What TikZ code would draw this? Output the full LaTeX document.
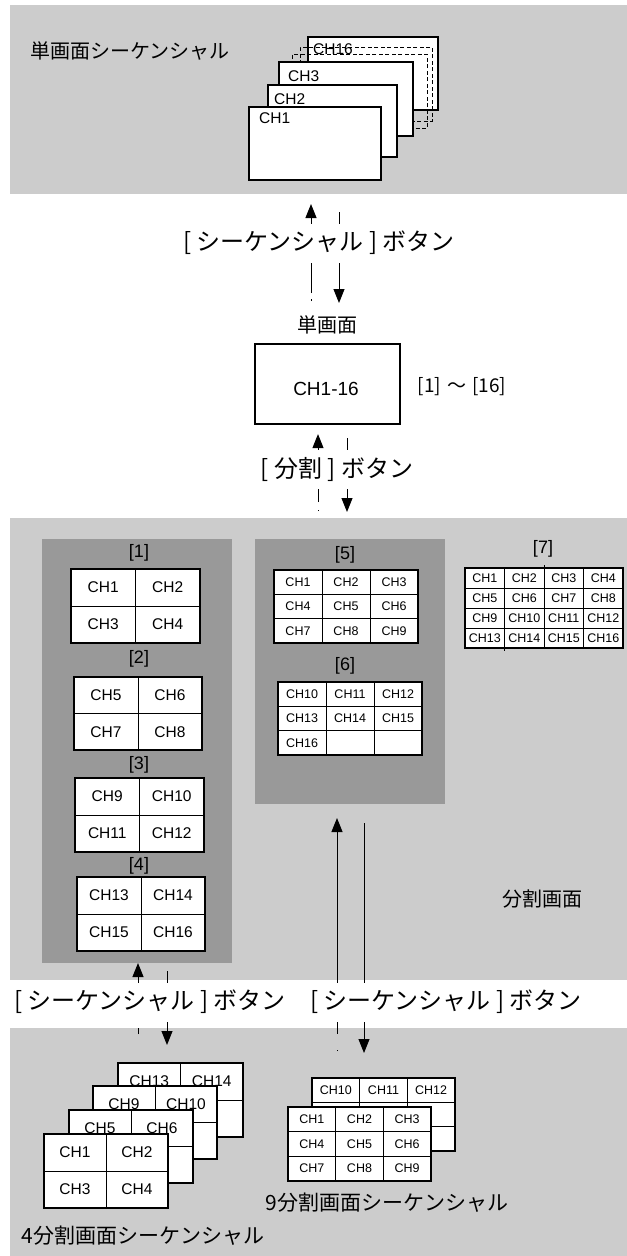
\documentclass[tikz,border=0pt]{standalone}
\usepackage{fontspec}
\setmainfont{Liberation Sans}
\newfontfamily\jpfont{Noto Sans CJK JP}
\usepackage{tikz}
\usetikzlibrary{positioning,arrows.meta,calc}
\definecolor{bandgray}{RGB}{204,204,204}
\definecolor{panelgray}{RGB}{153,153,153}
% channel grid: name, x, y, width, height, columns, rows, cell style, labels
\newcommand{\chgrid}[9]{%
  \node[gridbox, minimum width=#4bp, minimum height=#5bp, anchor=north west] (#1) at (#2,#3) {};
  \foreach \lab [count=\i from 0] in {#9} {
    \pgfmathtruncatemacro{\gcol}{mod(\i,#6)}
    \pgfmathtruncatemacro{\grow}{div(\i,#6)}
    \node[#8] (#1-\i) at ($(#1.north west)+({(\gcol+0.5)*#4/#6},{(\grow+0.5)*#5/#7})$) {\lab};
  }
  \pgfmathtruncatemacro{\glastc}{#6-1}
  \pgfmathtruncatemacro{\glastr}{#7-1}
  \foreach \k in {1,...,\glastc}
    \draw[cellline] ($(#1.north west)+({\k*#4/#6},0)$) -- ($(#1.south west)+({\k*#4/#6},0)$);
  \foreach \k in {1,...,\glastr}
    \draw[cellline] ($(#1.north west)+(0,{\k*#5/#7})$) -- ($(#1.north east)+(0,{\k*#5/#7})$);
}

\begin{document}
\begin{tikzpicture}[x=1bp, y=-1bp,
  gridbox/.style={draw, fill=white, line width=2.2bp, inner sep=0pt, outer sep=0pt},
  cellline/.style={line width=1bp},
  scrbox/.style={draw, fill=white, line width=2.2bp, inner sep=0pt, outer sep=0pt, anchor=north west},
  ghostbox/.style={draw, dash pattern=on 4bp off 2.5bp, line width=0.8bp, inner sep=0pt, outer sep=0pt, anchor=north west},
  panel/.style={fill=panelgray, inner sep=0pt, outer sep=0pt, anchor=north west},
  ch4/.style={font=\fontsize{15.5bp}{18bp}\selectfont, inner sep=0pt},
  ch9/.style={font=\fontsize{12.5bp}{15bp}\selectfont, inner sep=0pt},
  numtag/.style={font=\fontsize{18bp}{22bp}\selectfont, inner sep=0pt},
  jp/.style={font=\jpfont\fontsize{20bp}{24bp}\selectfont, inner sep=0pt},
  jpl/.style={font=\jpfont\fontsize{21bp}{25bp}\selectfont, inner sep=0pt},
  btn/.style={font=\jpfont\fontsize{24bp}{28bp}\selectfont, fill=white, inner xsep=2bp, inner ysep=0pt, minimum height=39bp},
  arr/.style={-{Triangle[length=14bp, width=11bp]}, line width=1bp}]
\useasboundingbox (0,0) rectangle (627,1256);
\fill[bandgray] (10,5) rectangle (627,194);
\fill[bandgray] (10,518) rectangle (627,980);
\fill[bandgray] (10,1028) rectangle (627,1256);

% single screen sequence
\node[jp] (seqtitle) at (130,51) {単画面シーケンシャル};
\node[scrbox, minimum width=130bp, minimum height=73bp] (scr16) at (308,37) {};
\node[ch4, anchor=west] (scr16lab) at (313,49) {CH16};
\node[ghostbox, minimum width=132bp, minimum height=74bp] (ghostA) at (300,47) {};
\node[ghostbox, minimum width=135bp, minimum height=74bp] (ghostB) at (292,54) {};
\node[scrbox, minimum width=134bp, minimum height=74bp] (scr3) at (279,62) {};
\node[ch4, anchor=west] (scr3lab) at (288,76) {CH3};
\node[scrbox, minimum width=129bp, minimum height=72bp] (scr2) at (268,85) {};
\node[ch4, anchor=west] (scr2lab) at (274,99) {CH2};
\node[scrbox, minimum width=132bp, minimum height=73bp] (scr1) at (249,107) {};
\node[ch4, anchor=west] (scr1lab) at (259,118) {CH1};

% single screen
\node[draw, line width=2.2bp, minimum width=145bp, minimum height=80bp, inner sep=0pt] (single) at (327.5,384) {};
\node[font=\fontsize{19bp}{23bp}\selectfont, inner sep=0pt] (singlelab) at (326,388.5) {CH1-16};
\node[jp, above=9bp of single] (singletitle) {単画面};
\node[jp, font=\jpfont\fontsize{19bp}{23bp}\selectfont] (rangelab) at (462,387) {[1]\hspace{6bp}〜\hspace{6bp}[16]};

% split screens
\node[panel, minimum width=190bp, minimum height=424bp] (panA) at (42,539) {};
\node[panel, minimum width=190bp, minimum height=265bp] (panB) at (255,539) {};
\node[numtag] (tag1) at (139,553) {[1]};
\chgrid{g1}{71}{569}{129}{74}{2}{2}{ch4}{CH1,CH2,CH3,CH4}
\node[numtag] (tag2) at (139,659) {[2]};
\chgrid{g2}{74}{677}{128}{73}{2}{2}{ch4}{CH5,CH6,CH7,CH8}
\node[numtag] (tag3) at (139,765) {[3]};
\chgrid{g3}{75}{778}{129}{74}{2}{2}{ch4}{CH9,CH10,CH11,CH12}
\node[numtag] (tag4) at (139,866) {[4]};
\chgrid{g4}{77}{877}{128}{74}{2}{2}{ch4}{CH13,CH14,CH15,CH16}
\node[numtag] (tag5) at (345,555) {[5]};
\chgrid{g5}{274}{570}{144}{73}{3}{3}{ch9}{CH1,CH2,CH3,CH4,CH5,CH6,CH7,CH8,CH9}
\node[numtag] (tag6) at (345,666) {[6]};
\chgrid{g6}{278}{682}{144}{73}{3}{3}{ch9}{CH10,CH11,CH12,CH13,CH14,CH15,CH16}
\node[numtag] (tag7) at (543,549) {[7]};
\chgrid{g7}{465}{568}{158}{80}{4}{4}{ch9}{CH1,CH2,CH3,CH4,CH5,CH6,CH7,CH8,CH9,CH10,CH11,CH12,CH13,CH14,CH15,CH16}
\draw[cellline] ($(g7.north west)+(79,-3)$) -- ($(g7.north west)+(79,0)$);
\draw[cellline] ($(g7.south west)+(39.5,0)$) -- ($(g7.south west)+(39.5,3)$);
\node[jp] (splitlab) at (542,899) {分割画面};

% split sequences
\chgrid{s4d}{118}{1063}{125}{74}{2}{2}{ch4}{CH13,CH14}
\chgrid{s4c}{93}{1086}{124}{73}{2}{2}{ch4}{CH9,CH10}
\chgrid{s4b}{69}{1110}{124}{73}{2}{2}{ch4}{CH5,CH6}
\chgrid{s4a}{44}{1134}{124}{74}{2}{2}{ch4}{CH1,CH2,CH3,CH4}
\node[jpl] (seq4lab) at (143,1236) {4分割画面シーケンシャル};
\chgrid{s9b}{312}{1078}{143}{73}{3}{3}{ch9}{CH10,CH11,CH12}
\chgrid{s9a}{288}{1107}{143}{74}{3}{3}{ch9}{CH1,CH2,CH3,CH4,CH5,CH6,CH7,CH8,CH9}
\node[jpl] (seq9lab) at (387,1203) {9分割画面シーケンシャル};

% button arrows
\coordinate (upA) at (311,301);
\coordinate (upAend) at (311,204);
\coordinate (dnA) at (339,212);
\coordinate (dnAend) at (339,303);
\coordinate (upB) at (318,511);
\coordinate (dnB) at (347,438);
\coordinate (dnBend) at (347,512);
\coordinate (upC) at (138,1034);
\coordinate (dnC) at (167,971);
\coordinate (dnCend) at (167,1045);
\coordinate (upD) at (337,1051);
\coordinate (upDend) at (337,818);
\coordinate (dnD) at (364,823);
\coordinate (dnDend) at (364,1053);
\draw[arr, dash pattern=on 2bp off 6bp on 400bp] (upA) -- (upAend);
\draw[arr] (dnA) -- (dnAend);
\draw[arr, dash pattern=on 1.5bp off 7.5bp on 400bp] (upB) -- ([yshift=-9bp]upB |- single.south);
\draw[arr] (dnB) -- (dnBend);
\draw[arr, dash pattern=on 6bp off 20bp on 400bp] (upC) -- (upC |- panA.south);
\draw[arr] (dnC) -- (dnCend);
\draw[arr, dash pattern=on 1.5bp off 16bp on 400bp] (upD) -- (upDend);
\draw[arr] (dnD) -- (dnDend);
\node[btn] (btnA) at (319,243) {[ シーケンシャル ] ボタン};
\node[btn] (btnB) at (337,469) {[ 分割 ] ボタン};
\node[btn] (btnC) at (150,1002) {[ シーケンシャル ] ボタン};
\node[btn] (btnD) at (446,1002) {[ シーケンシャル ] ボタン};
\end{tikzpicture}
\end{document}
